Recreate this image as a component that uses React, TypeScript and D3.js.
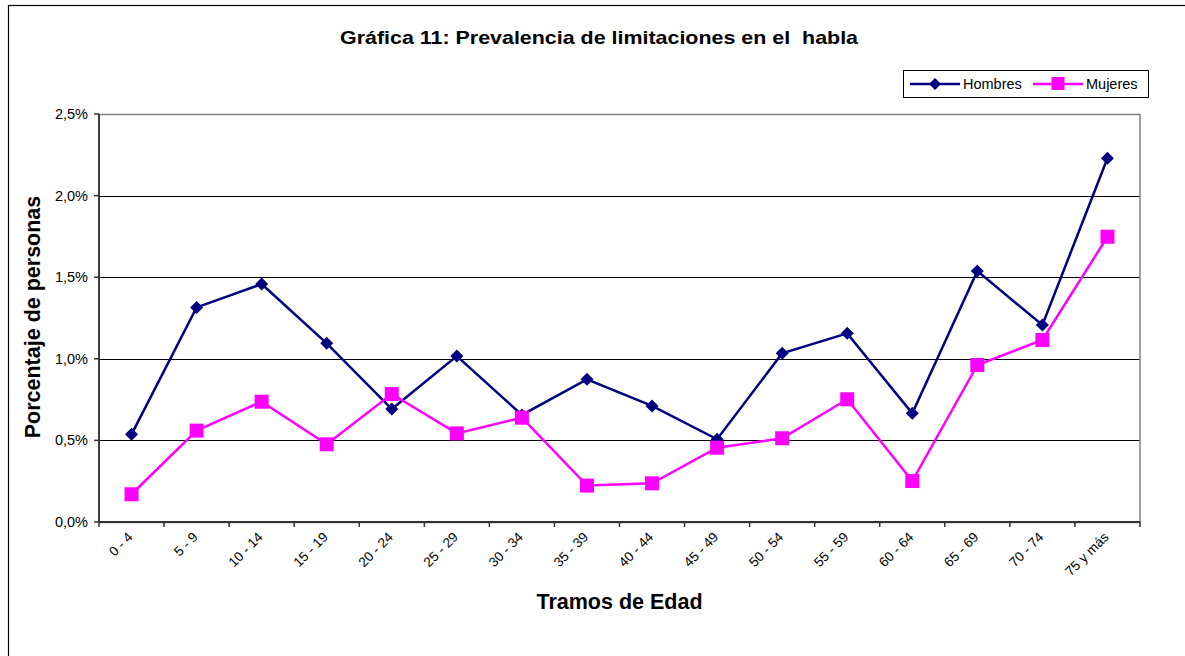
import React from 'react';
import * as d3 from 'd3';

const categories = ['0 - 4', '5 - 9', '10 - 14', '15 - 19', '20 - 24', '25 - 29', '30 - 34', '35 - 39',
  '40 - 44', '45 - 49', '50 - 54', '55 - 59', '60 - 64', '65 - 69', '70 - 74', '75 y más'];
const hombres = [0.537, 1.315, 1.458, 1.095, 0.692, 1.017, 0.656, 0.874, 0.711, 0.507, 1.034, 1.156, 0.666, 1.538, 1.207, 2.229];
const mujeres = [0.170, 0.560, 0.737, 0.476, 0.784, 0.543, 0.639, 0.223, 0.237, 0.455, 0.513, 0.752, 0.251, 0.962, 1.115, 1.748];
const yTicks = [0, 0.5, 1.0, 1.5, 2.0, 2.5];

const W = 1185;
const H = 656;
const plot = { left: 99, right: 1140, top: 114, bottom: 522 };
const font = 'Arial, "Liberation Sans", Helvetica, sans-serif';

const App: React.FC = () => {
  const x = d3.scaleBand<string>().domain(categories).range([plot.left, plot.right]);
  const y = d3.scaleLinear().domain([0, 2.5]).range([plot.bottom, plot.top]);
  const cx = (c: string) => (x(c) || 0) + x.bandwidth() / 2;

  const line = d3.line<number>()
    .x((_, i) => cx(categories[i]))
    .y(d => y(d));

  const fmt = (v: number) => v.toFixed(1).replace('.', ',') + '%';
  const diamond = (px: number, py: number, r: number) =>
    `M${px},${py - r}L${px + r},${py}L${px},${py + r}L${px - r},${py}Z`;

  // ticks sit between categories
  const xTickPos = categories.map(c => x(c) || 0).concat([plot.right]);

  return (
    <svg width={W} height={H} style={{ position: 'absolute', left: 0, top: 0, fontFamily: font }}>
      <rect x={0} y={0} width={W} height={H} fill="#fff" />
      {/* outer chart border (only left/top visible) */}
      <rect x={8.5} y={5.5} width={W + 20} height={H + 20} fill="none" stroke="#000" strokeWidth={1.2} />

      <text x={599} y={44} textAnchor="middle" fontSize={19} fontWeight="bold" textLength={518}
        lengthAdjust="spacingAndGlyphs" style={{ whiteSpace: 'pre' }}>
        {'Gráfica 11: Prevalencia de limitaciones en el  habla'}
      </text>

      {/* gridlines */}
      {yTicks.slice(1, -1).map(t => (
        <line key={t} x1={plot.left} x2={plot.right} y1={Math.round(y(t)) + 0.5} y2={Math.round(y(t)) + 0.5}
          stroke="#000" strokeWidth={1} />
      ))}
      {/* plot area border */}
      <rect x={plot.left} y={plot.top + 0.5} width={plot.right - plot.left} height={plot.bottom - plot.top}
        fill="none" stroke="#808080" strokeWidth={1.5} />
      {/* axes */}
      <line x1={plot.left} x2={plot.left} y1={plot.top} y2={plot.bottom} stroke="#333" strokeWidth={1.8} />
      <line x1={plot.left} x2={plot.right} y1={plot.bottom} y2={plot.bottom} stroke="#333" strokeWidth={1.8} />

      {yTicks.map(t => (
        <g key={t}>
          <line x1={plot.left - 5} x2={plot.left} y1={y(t)} y2={y(t)} stroke="#333" strokeWidth={1.5} />
          <text x={88} y={y(t) + 5} textAnchor="end" fontSize={14.5}>{fmt(t)}</text>
        </g>
      ))}

      {xTickPos.map((p, i) => (
        <line key={i} x1={p} x2={p} y1={plot.bottom} y2={plot.bottom + 5} stroke="#333" strokeWidth={1.5} />
      ))}
      {categories.map(c => (
        <text key={c} transform={`translate(${cx(c) + 2},${plot.bottom + 16}) rotate(-45)`}
          textAnchor="end" fontSize={13.5}>{c}</text>
      ))}

      <text x={(plot.left + plot.right) / 2} y={609} textAnchor="middle" fontSize={21.5} fontWeight="bold">
        Tramos de Edad
      </text>
      <text transform={`translate(40,${(plot.top + plot.bottom) / 2 - 1}) rotate(-90)`} textAnchor="middle"
        fontSize={21.5} fontWeight="bold">Porcentaje de personas</text>

      {/* series */}
      <path d={line(hombres) || ''} fill="none" stroke="#000080" strokeWidth={2.5} />
      <path d={line(mujeres) || ''} fill="none" stroke="#FF00FF" strokeWidth={2.5} />
      {hombres.map((v, i) => (
        <path key={'h' + i} d={diamond(cx(categories[i]), y(v), 6.5)} fill="#000080" />
      ))}
      {mujeres.map((v, i) => (
        <rect key={'m' + i} x={cx(categories[i]) - 7} y={y(v) - 7} width={14} height={14} fill="#FF00FF" />
      ))}

      {/* legend */}
      <rect x={903.5} y={70.5} width={245} height={27} fill="#fff" stroke="#000" strokeWidth={1} />
      <line x1={910} x2={960} y1={84} y2={84} stroke="#000080" strokeWidth={2.5} />
      <path d={diamond(935, 84, 6)} fill="#000080" />
      <text x={963} y={89} fontSize={14.5}>Hombres</text>
      <line x1={1033} x2={1083} y1={84} y2={84} stroke="#FF00FF" strokeWidth={2.5} />
      <rect x={1051.5} y={77} width={13} height={13} fill="#FF00FF" />
      <text x={1086} y={89} fontSize={14.5}>Mujeres</text>
    </svg>
  );
};

export default App;
